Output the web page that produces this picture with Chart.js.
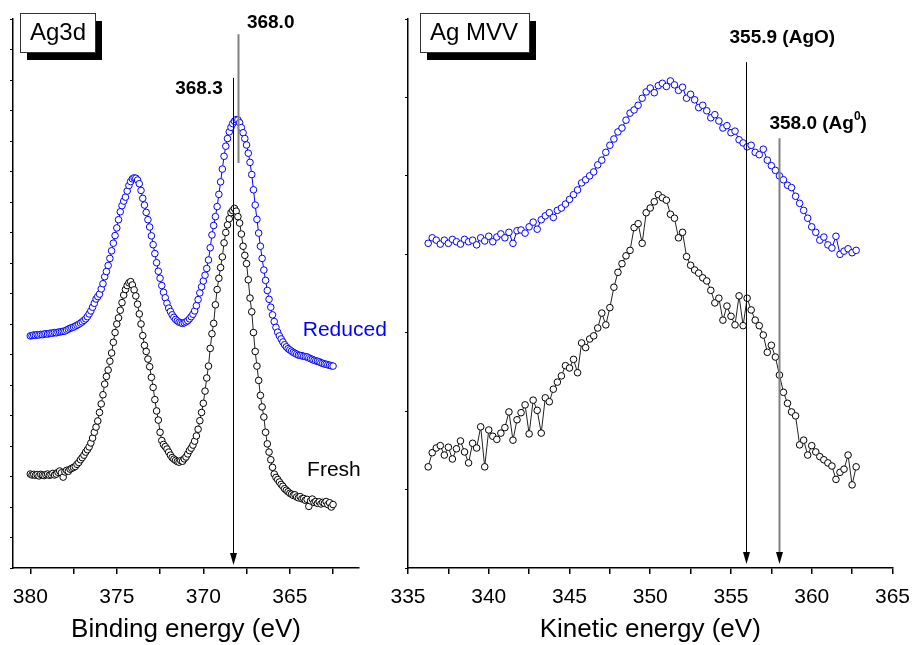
<!DOCTYPE html>
<html>
<head>
<meta charset="utf-8">
<script src="https://cdn.jsdelivr.net/npm/chart.js@4.4.0/dist/chart.umd.min.js"></script>
<style>
  html, body { margin: 0; padding: 0; background: #fff; }
  body { width: 912px; height: 645px; position: relative; overflow: hidden; }
  .panel { position: absolute; top: 0; }
  #wrapL { left: 0; }
  #wrapR { left: 370px; }
</style>
</head>
<body>
<div class="panel" id="wrapL"><canvas id="ag3d" width="400" height="645"></canvas></div>
<div class="panel" id="wrapR"><canvas id="agmvv" width="551" height="645"></canvas></div>
<script>
// ================================
// DATA - Ag3d (binding energy, eV)
// ================================
const bindingE = [
  380.0, 379.9, 379.8, 379.7, 379.6, 379.5, 379.4, 379.3, 379.2, 379.1,
  379.0, 378.9, 378.8, 378.7, 378.6, 378.5, 378.4, 378.3, 378.2, 378.1,
  378.0, 377.9, 377.8, 377.7, 377.6, 377.5, 377.4, 377.3, 377.2, 377.1,
  377.0, 376.9, 376.8, 376.7, 376.6, 376.5, 376.4, 376.3, 376.2, 376.1,
  376.0, 375.9, 375.8, 375.7, 375.6, 375.5, 375.4, 375.3, 375.2, 375.1,
  375.0, 374.9, 374.8, 374.7, 374.6, 374.5, 374.4, 374.3, 374.2, 374.1,
  374.0, 373.9, 373.8, 373.7, 373.6, 373.5, 373.4, 373.3, 373.2, 373.1,
  373.0, 372.9, 372.8, 372.7, 372.6, 372.5, 372.4, 372.3, 372.2, 372.1,
  372.0, 371.9, 371.8, 371.7, 371.6, 371.5, 371.4, 371.3, 371.2, 371.1,
  371.0, 370.9, 370.8, 370.7, 370.6, 370.5, 370.4, 370.3, 370.2, 370.1,
  370.0, 369.9, 369.8, 369.7, 369.6, 369.5, 369.4, 369.3, 369.2, 369.1,
  369.0, 368.9, 368.8, 368.7, 368.6, 368.5, 368.4, 368.3, 368.2, 368.1,
  368.0, 367.9, 367.8, 367.7, 367.6, 367.5, 367.4, 367.3, 367.2, 367.1,
  367.0, 366.9, 366.8, 366.7, 366.6, 366.5, 366.4, 366.3, 366.2, 366.1,
  366.0, 365.9, 365.8, 365.7, 365.6, 365.5, 365.4, 365.3, 365.2, 365.1,
  365.0, 364.9, 364.8, 364.7, 364.6, 364.5, 364.4, 364.3, 364.2, 364.1,
  364.0, 363.9, 363.8, 363.7, 363.6, 363.5, 363.4, 363.3, 363.2, 363.1,
  363.0, 362.9, 362.8, 362.7, 362.6, 362.5
];
const reducedAg3d = [
  7.61, 7.62, 7.64, 7.63, 7.65, 7.64, 7.66, 7.65, 7.67, 7.68,
  7.67, 7.69, 7.70, 7.70, 7.72, 7.71, 7.73, 7.74, 7.75, 7.76,
  7.77, 7.80, 7.83, 7.86, 7.88, 7.90, 7.93, 7.96, 7.99, 8.03,
  8.07, 8.12, 8.17, 8.24, 8.33, 8.43, 8.55, 8.68, 8.82, 8.90,
  8.98, 9.15, 9.32, 9.55, 9.72, 9.92, 10.15, 10.40, 10.65, 10.90,
  11.15, 11.42, 11.68, 11.88, 12.03, 12.16, 12.36, 12.54, 12.67, 12.76,
  12.79, 12.78, 12.72, 12.60, 12.38, 12.12, 11.90, 11.66, 11.42, 11.18,
  10.89, 10.60, 10.31, 10.01, 9.73, 9.50, 9.26, 9.04, 8.86, 8.68,
  8.52, 8.41, 8.30, 8.22, 8.15, 8.10, 8.06, 8.04, 8.02, 8.04,
  8.07, 8.11, 8.17, 8.24, 8.32, 8.43, 8.60, 8.80, 9.02, 9.22,
  9.41, 9.60, 9.82, 10.10, 10.50, 10.92, 11.23, 11.52, 11.85, 12.25,
  12.66, 13.08, 13.50, 13.83, 14.08, 14.30, 14.45, 14.57, 14.65, 14.70,
  14.69, 14.60, 14.44, 14.27, 14.08, 13.87, 13.60, 13.30, 12.90, 12.40,
  11.90, 11.43, 10.98, 10.55, 10.15, 9.77, 9.43, 9.10, 8.81, 8.55,
  8.30, 8.08, 7.89, 7.73, 7.61, 7.51, 7.41, 7.32, 7.25, 7.19,
  7.15, 7.11, 7.07, 7.04, 7.01, 6.98, 6.97, 6.96, 6.94, 6.93,
  6.92, 6.89, 6.86, 6.84, 6.81, 6.79, 6.78, 6.76, 6.73, 6.71,
  6.69, 6.68, 6.66, 6.65, 6.63, 6.62
];
const freshAg3d = [
  3.08, 3.05, 3.07, 3.04, 3.06, 3.02, 3.07, 3.05, 3.03, 3.06,
  3.08, 3.04, 3.06, 3.10, 3.05, 3.08, 3.14, 3.18, 3.12, 2.98,
  3.15, 3.20, 3.17, 3.24, 3.27, 3.30, 3.33, 3.40, 3.46, 3.55,
  3.62, 3.70, 3.80, 3.88, 3.97, 4.10, 4.26, 4.45, 4.62, 4.82,
  5.10, 5.38, 5.68, 6.03, 6.28, 6.49, 6.78, 7.05, 7.40, 7.72,
  8.00, 8.20, 8.45, 8.70, 8.95, 9.13, 9.26, 9.35, 9.39, 9.28,
  9.12, 8.92, 8.65, 8.33, 8.00, 7.62, 7.30, 7.10, 6.85, 6.60,
  6.25, 5.92, 5.52, 5.15, 4.85, 4.45, 4.18, 4.05, 3.98, 3.90,
  3.80, 3.70, 3.62, 3.57, 3.53, 3.49, 3.47, 3.52, 3.50, 3.58,
  3.64, 3.74, 3.85, 3.93, 4.03, 4.16, 4.33, 4.55, 4.83, 5.10,
  5.40, 5.80, 6.23, 6.62, 7.20, 7.68, 8.02, 8.63, 9.13, 9.50,
  9.85, 10.20, 10.66, 11.00, 11.25, 11.45, 11.65, 11.72, 11.79, 11.70,
  11.52, 11.31, 10.95, 10.55, 10.25, 9.98, 9.45, 8.85, 8.40, 7.72,
  7.10, 6.62, 6.15, 5.66, 5.28, 4.95, 4.45, 4.07, 3.80, 3.55,
  3.30, 3.08, 2.97, 2.90, 2.82, 2.74, 2.68, 2.60, 2.55, 2.50,
  2.45, 2.42, 2.38, 2.40, 2.33, 2.30, 2.34, 2.27, 2.28, 2.22,
  2.25, 2.02, 2.20, 2.26, 2.15, 2.18, 2.12, 2.17, 2.10, 2.15,
  2.12, 2.18, 2.08, 2.14, 2.00, 2.08
];
const bindingTicks = [362.5, 365, 367.5, 370, 372.5, 375, 377.5, 380];

// ================================
// DATA - Ag MVV (kinetic energy, eV)
// ================================
const kineticE = [
  336.25, 336.5, 336.75,
  337, 337.25, 337.5, 337.75, 338, 338.25, 338.5, 338.75,
  339, 339.25, 339.5, 339.75, 340, 340.25, 340.5, 340.75,
  341, 341.25, 341.5, 341.75, 342, 342.25, 342.5, 342.75,
  343, 343.25, 343.5, 343.75, 344, 344.25, 344.5, 344.75,
  345, 345.25, 345.5, 345.75, 346, 346.25, 346.5, 346.75,
  347, 347.25, 347.5, 347.75, 348, 348.25, 348.5, 348.75,
  349, 349.25, 349.5, 349.75, 350, 350.25, 350.5, 350.75,
  351, 351.25, 351.5, 351.75, 352, 352.25, 352.5, 352.75,
  353, 353.25, 353.5, 353.75, 354, 354.25, 354.5, 354.75,
  355, 355.25, 355.5, 355.75, 356, 356.25, 356.5, 356.75,
  357, 357.25, 357.5, 357.75, 358, 358.25, 358.5, 358.75,
  359, 359.25, 359.5, 359.75, 360, 360.25, 360.5, 360.75,
  361, 361.25, 361.5, 361.75, 362, 362.25, 362.5, 362.75
];
const reducedMVV = [
  4.14, 4.21, 4.18,
  4.13, 4.18, 4.14, 4.19, 4.16, 4.13, 4.19, 4.16,
  4.18, 4.12, 4.21, 4.17, 4.23, 4.16, 4.22, 4.26,
  4.21, 4.28, 4.14, 4.30, 4.31, 4.27, 4.35, 4.41,
  4.32, 4.44, 4.49, 4.53, 4.47, 4.56, 4.59, 4.64,
  4.70, 4.76, 4.82, 4.91, 4.95, 5.00, 5.05, 5.14,
  5.20, 5.30, 5.39, 5.47, 5.56, 5.61, 5.71, 5.80,
  5.84, 5.90, 5.99, 6.07, 6.12, 6.06, 6.15, 6.18,
  6.14, 6.21, 6.16, 6.09, 6.13, 5.99, 6.04, 5.97,
  5.87, 5.90, 5.83, 5.74, 5.78, 5.70, 5.61, 5.64,
  5.55, 5.57, 5.46, 5.42, 5.37, 5.39, 5.30, 5.27,
  5.34, 5.20, 5.13, 5.07, 5.00, 4.95, 4.88, 4.85,
  4.74, 4.65, 4.56, 4.46, 4.35, 4.28, 4.18, 4.22,
  4.12, 4.08, 4.23, 4.00, 4.04, 4.07, 4.02, 4.05
];
const freshMVV = [
  1.29, 1.47, 1.53,
  1.56, 1.44, 1.54, 1.39, 1.52, 1.62, 1.48, 1.34,
  1.59, 1.53, 1.80, 1.29, 1.76, 1.68, 1.64, 1.72,
  1.79, 1.99, 1.63, 1.89, 1.98, 2.08, 1.71, 2.14,
  2.01, 1.72, 2.17, 2.12, 2.28, 2.37, 2.45, 2.58,
  2.55, 2.66, 2.49, 2.87, 2.81, 2.92, 2.96, 3.06,
  3.25, 3.10, 3.32, 3.58, 3.77, 3.88, 3.98, 4.05,
  4.34, 4.39, 4.14, 4.53, 4.59, 4.67, 4.76, 4.72,
  4.69, 4.51, 4.46, 4.21, 4.28, 3.97, 3.86, 3.80,
  3.76, 3.70, 3.66, 3.54, 3.38, 3.44, 3.16, 3.34,
  3.21, 3.10, 3.47, 3.09, 3.44, 3.29, 3.16, 3.09,
  2.97, 2.75, 2.84, 2.69, 2.46, 2.24, 2.10, 1.99,
  1.94, 1.57, 1.63, 1.44, 1.56, 1.48, 1.42, 1.38,
  1.34, 1.30, 1.13, 1.22, 1.26, 1.44, 1.06, 1.29
];
const kineticTicks = [335, 337.5, 340, 342.5, 345, 347.5, 350, 352.5, 355, 357.5, 360, 362.5, 365];

// ================================
// HELPERS
// ================================
const FONT = '"Liberation Sans", Arial, Helvetica, sans-serif';
Chart.defaults.font.family = FONT;
Chart.defaults.color = '#000';

const toPoints = (xs, ys) => xs.map((x, i) => ({ x, y: ys[i] }));
const range = (a, b) => { const r = []; for (let v = a; v <= b; v++) r.push(v); return r; };

const series = (xs, ys, color, lineColor) => ({
  data: toPoints(xs, ys),
  showLine: true,
  borderColor: lineColor,
  borderWidth: 1,
  pointRadius: 3.3,
  pointBorderWidth: 1,
  pointBorderColor: color,
  pointBackgroundColor: '#fff'
});

// lines, arrows, labels and boxed titles drawn over each panel
const annotate = {
  id: 'annotate',
  afterDraw(chart, args, opts) {
    const { ctx, chartArea } = chart;
    const xs = chart.scales.x, ys = chart.scales.y;
    ctx.save();

    (opts.markers || []).forEach(m => {
      const x = Math.round(xs.getPixelForValue(m.at)) + 0.5;
      const y0 = ys.getPixelForValue(m.from), y1 = ys.getPixelForValue(m.to);
      ctx.strokeStyle = m.color; ctx.lineWidth = m.width;
      ctx.beginPath(); ctx.moveTo(x, y0); ctx.lineTo(x, m.arrow ? y1 - 8 : y1); ctx.stroke();
      if (m.arrow) {
        ctx.fillStyle = '#000';
        ctx.beginPath();
        ctx.moveTo(x, y1); ctx.lineTo(x - 3.5, y1 - 12); ctx.lineTo(x + 3.5, y1 - 12);
        ctx.closePath(); ctx.fill();
      }
    });

    ctx.textBaseline = 'middle';
    (opts.labels || []).forEach(l => {
      const font = (l.bold ? 'bold ' : '') + l.size + 'px ' + FONT;
      const supFont = (l.bold ? 'bold ' : '') + Math.round(l.size * 0.65) + 'px ' + FONT;
      ctx.fillStyle = l.color || '#000';
      const parts = l.parts || [{ t: l.text }];
      let total = 0;
      parts.forEach(p => {
        ctx.font = p.sup ? supFont : font;
        total += ctx.measureText(p.t).width;
      });
      let x = xs.getPixelForValue(l.at) + l.dx;
      if (l.align === 'right') x -= total;
      const y = ys.getPixelForValue(l.y);
      ctx.textAlign = 'left';
      parts.forEach(p => {
        ctx.font = p.sup ? supFont : font;
        ctx.fillText(p.t, x, p.sup ? y - 7 : y);
        x += ctx.measureText(p.t).width;
      });
    });

    if (opts.box) {
      const b = opts.box;
      const bx = chartArea.left + b.dx, by = chartArea.top + b.dy;
      ctx.fillStyle = '#000';
      ctx.fillRect(bx + 7, by + 8, b.w, b.h);
      ctx.fillStyle = '#fff';
      ctx.fillRect(bx, by, b.w, b.h);
      ctx.strokeStyle = '#333'; ctx.lineWidth = 1;
      ctx.strokeRect(bx + 0.5, by + 0.5, b.w, b.h);
      ctx.fillStyle = '#000';
      ctx.font = '24px ' + FONT;
      ctx.textAlign = 'left';
      ctx.fillText(b.text, bx + 10, by + b.h / 2 + 1);
    }
    ctx.restore();
  }
};

function panelOptions(cfg) {
  return {
    responsive: false,
    animation: false,
    layout: { padding: cfg.padding },
    plugins: {
      legend: { display: false },
      tooltip: { enabled: false },
      annotate: cfg.annotate
    },
    scales: {
      x: {
        type: 'linear',
        min: cfg.xMin, max: cfg.xMax, reverse: cfg.reverse,
        afterBuildTicks: s => { s.ticks = cfg.xTicks.map(v => ({ value: v })); },
        afterFit: s => { s.height = 77; },
        border: { color: '#000', width: 1.5 },
        grid: { drawOnChartArea: false, color: '#000', lineWidth: 1.5, tickLength: 6 },
        ticks: { font: { size: 21 }, padding: 11, maxRotation: 0, autoSkip: false,
                 callback: v => (v % 5 === 0 ? v : '') },
        title: { display: true, text: cfg.xTitle, font: { size: 26 }, padding: { top: 0, bottom: 0 } }
      },
      y: {
        type: 'linear',
        min: 0, max: cfg.yMax,
        afterBuildTicks: s => { s.ticks = range(0, cfg.yMax).map(v => ({ value: v })); },
        afterFit: s => { s.width = cfg.yWidth; },
        border: { color: '#000', width: 1.5 },
        grid: { drawOnChartArea: false, color: '#000', lineWidth: 1, tickLength: 3 },
        ticks: { padding: 0, callback: () => '' }
      }
    }
  };
}

// ================================
// LEFT PANEL - Ag3d
// ================================
new Chart(document.getElementById('ag3d'), {
  type: 'scatter',
  data: {
    datasets: [
      series(bindingE, freshAg3d, '#000', '#222'),
      series(bindingE, reducedAg3d, '#0000ff', '#0000ff')
    ]
  },
  options: panelOptions({
    padding: { left: 0, right: 41, top: 19, bottom: 0 },
    xMin: 361, xMax: 381, reverse: true, xTicks: bindingTicks,
    xTitle: 'Binding energy (eV)', yMax: 18, yWidth: 13,
    annotate: {
      markers: [
        { at: 368.3, from: 16.07, to: 0.1, arrow: true, color: '#000', width: 1 },
        { at: 368.0, from: 17.5, to: 13.28, arrow: false, color: '#808080', width: 2 }
      ],
      labels: [
        { text: '368.3', at: 368.3, dx: -10, align: 'right', y: 15.70, size: 19, bold: true },
        { text: '368.0', at: 368.0, dx: 9, align: 'left', y: 17.87, size: 19, bold: true },
        { text: 'Reduced', at: 364.25, dx: 0, align: 'left', y: 7.8, size: 21, color: '#0000ff' },
        { text: 'Fresh', at: 364.0, dx: 0, align: 'left', y: 3.21, size: 21 }
      ],
      box: { text: 'Ag3d', dx: 7, dy: -6, w: 75, h: 39 }
    }
  }),
  plugins: [annotate]
});

// ================================
// RIGHT PANEL - Ag MVV
// ================================
new Chart(document.getElementById('agmvv'), {
  type: 'scatter',
  data: {
    datasets: [
      series(kineticE, freshMVV, '#000', '#222'),
      series(kineticE, reducedMVV, '#0000ff', '#0000ff')
    ]
  },
  options: panelOptions({
    padding: { left: 30, right: 20, top: 19, bottom: 0 },
    xMin: 335, xMax: 365, reverse: false, xTicks: kineticTicks,
    xTitle: 'Kinetic energy (eV)', yMax: 7, yWidth: 8,
    annotate: {
      markers: [
        { at: 355.9, from: 6.45, to: 0.05, arrow: true, color: '#000', width: 1 },
        { at: 358.0, from: 5.48, to: 0.05, arrow: true, color: '#808080', width: 2 }
      ],
      labels: [
        { text: '355.9 (AgO)', at: 355.9, dx: -16, align: 'left', y: 6.76, size: 19, bold: true },
        { parts: [{ t: '358.0 (Ag' }, { t: '0', sup: true }, { t: ')' }],
          at: 358.0, dx: -10, align: 'left', y: 5.66, size: 19, bold: true }
      ],
      box: { text: 'Ag MVV', dx: 12, dy: -6, w: 109, h: 39 }
    }
  }),
  plugins: [annotate]
});
</script>
</body>
</html>
